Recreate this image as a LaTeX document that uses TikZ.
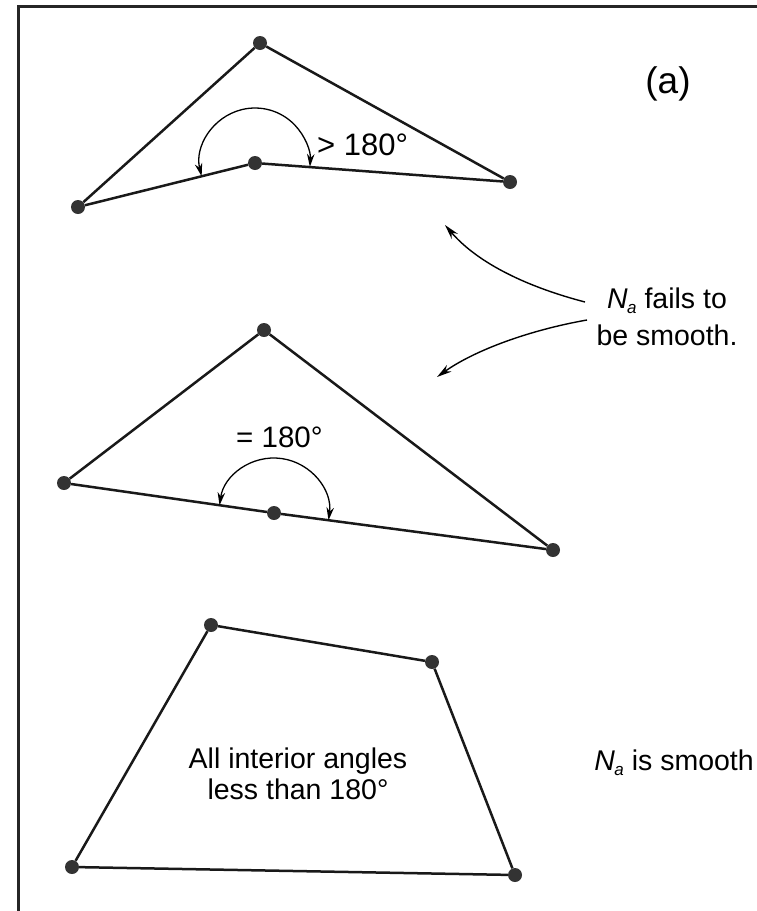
\documentclass[tikz,border=0pt]{standalone}
\usepackage{fontspec}
\setmainfont{Liberation Sans}
\usetikzlibrary{arrows.meta}
\newcommand{\NaSub}{\textit{N}\kern-0.5pt\raisebox{-0.35ex}{\fontsize{17}{17}\selectfont\itshape a}}
\begin{document}
\begin{tikzpicture}[x=1pt,y=-1pt,
  vdot/.style={circle,fill=black!80,inner sep=0pt,minimum size=14pt},
  edge/.style={line width=2.5pt,line join=round,black!90},
  anglearc/.style={line width=1.3pt,{Stealth[length=13pt,width=7.5pt]}-{Stealth[length=13pt,width=7.5pt]}},
  callout/.style={line width=1.4pt,-{Stealth[length=15pt,width=8pt]}},
  lbl/.style={font=\fontsize{28.5}{31}\selectfont,inner sep=0pt}]
\useasboundingbox (0,0) rectangle (756,911);
\draw[line width=3pt,black!85] (18,930) -- (18,6) -- (780,6);

% figure 1
\node[vdot] (p1) at (260,43) {};
\node[vdot] (p2) at (78,207) {};
\node[vdot] (p3) at (255,163) {};
\node[vdot] (p4) at (510,182) {};
\draw[edge] (p1) -- (p2) -- (p3) -- (p4) -- (p1);
\draw[anglearc] ([shift={(166:55)}]p3.center) arc[start angle=166, end angle=364, radius=55];
\node[lbl,font=\fontsize{31}{34}\selectfont,anchor=base west] (gt) at (317,155) {> 180°};
\node[lbl,font=\fontsize{37}{40}\selectfont] (lab) at (668,84) {(a)};

% callout
\node[lbl,font=\fontsize{28.5}{37}\selectfont,align=center] (fail) at (667,317) {\NaSub{} fails to\\be smooth.};
\coordinate (c1s) at (585,302);
\coordinate (c1e) at (445,225);
\coordinate (c2s) at (587,320);
\coordinate (c2e) at (437,377);
\draw[callout] (c1s) .. controls (520,285) and (475,260) .. (c1e);
\draw[callout] (c2s) .. controls (530,330) and (475,350) .. (c2e);

% figure 2
\node[vdot] (q1) at (264,330) {};
\node[vdot] (q2) at (64,483) {};
\node[vdot] (q3) at (274,513) {};
\node[vdot] (q4) at (553,550) {};
\draw[edge] (q1) -- (q2) -- (q3) -- (q4) -- (q1);
\draw[anglearc] ([shift={(188:55)}]q3.center) arc[start angle=188, end angle=367.6, radius=55];
\node[lbl,font=\fontsize{29.5}{34}\selectfont,anchor=base west] (eq) at (236,447) {= 180°};

% figure 3
\node[vdot] (r1) at (211,625) {};
\node[vdot] (r2) at (432,662) {};
\node[vdot] (r3) at (515,875) {};
\node[vdot] (r4) at (72,867) {};
\draw[edge] (r1) -- (r2) -- (r3) -- (r4) -- (r1);
\node[lbl,align=center] (inner) at (298,774) {All interior angles\\less than 180°};
\node[lbl,anchor=base east] (smooth) at (754,770) {\NaSub{} is smooth};
\end{tikzpicture}
\end{document}
